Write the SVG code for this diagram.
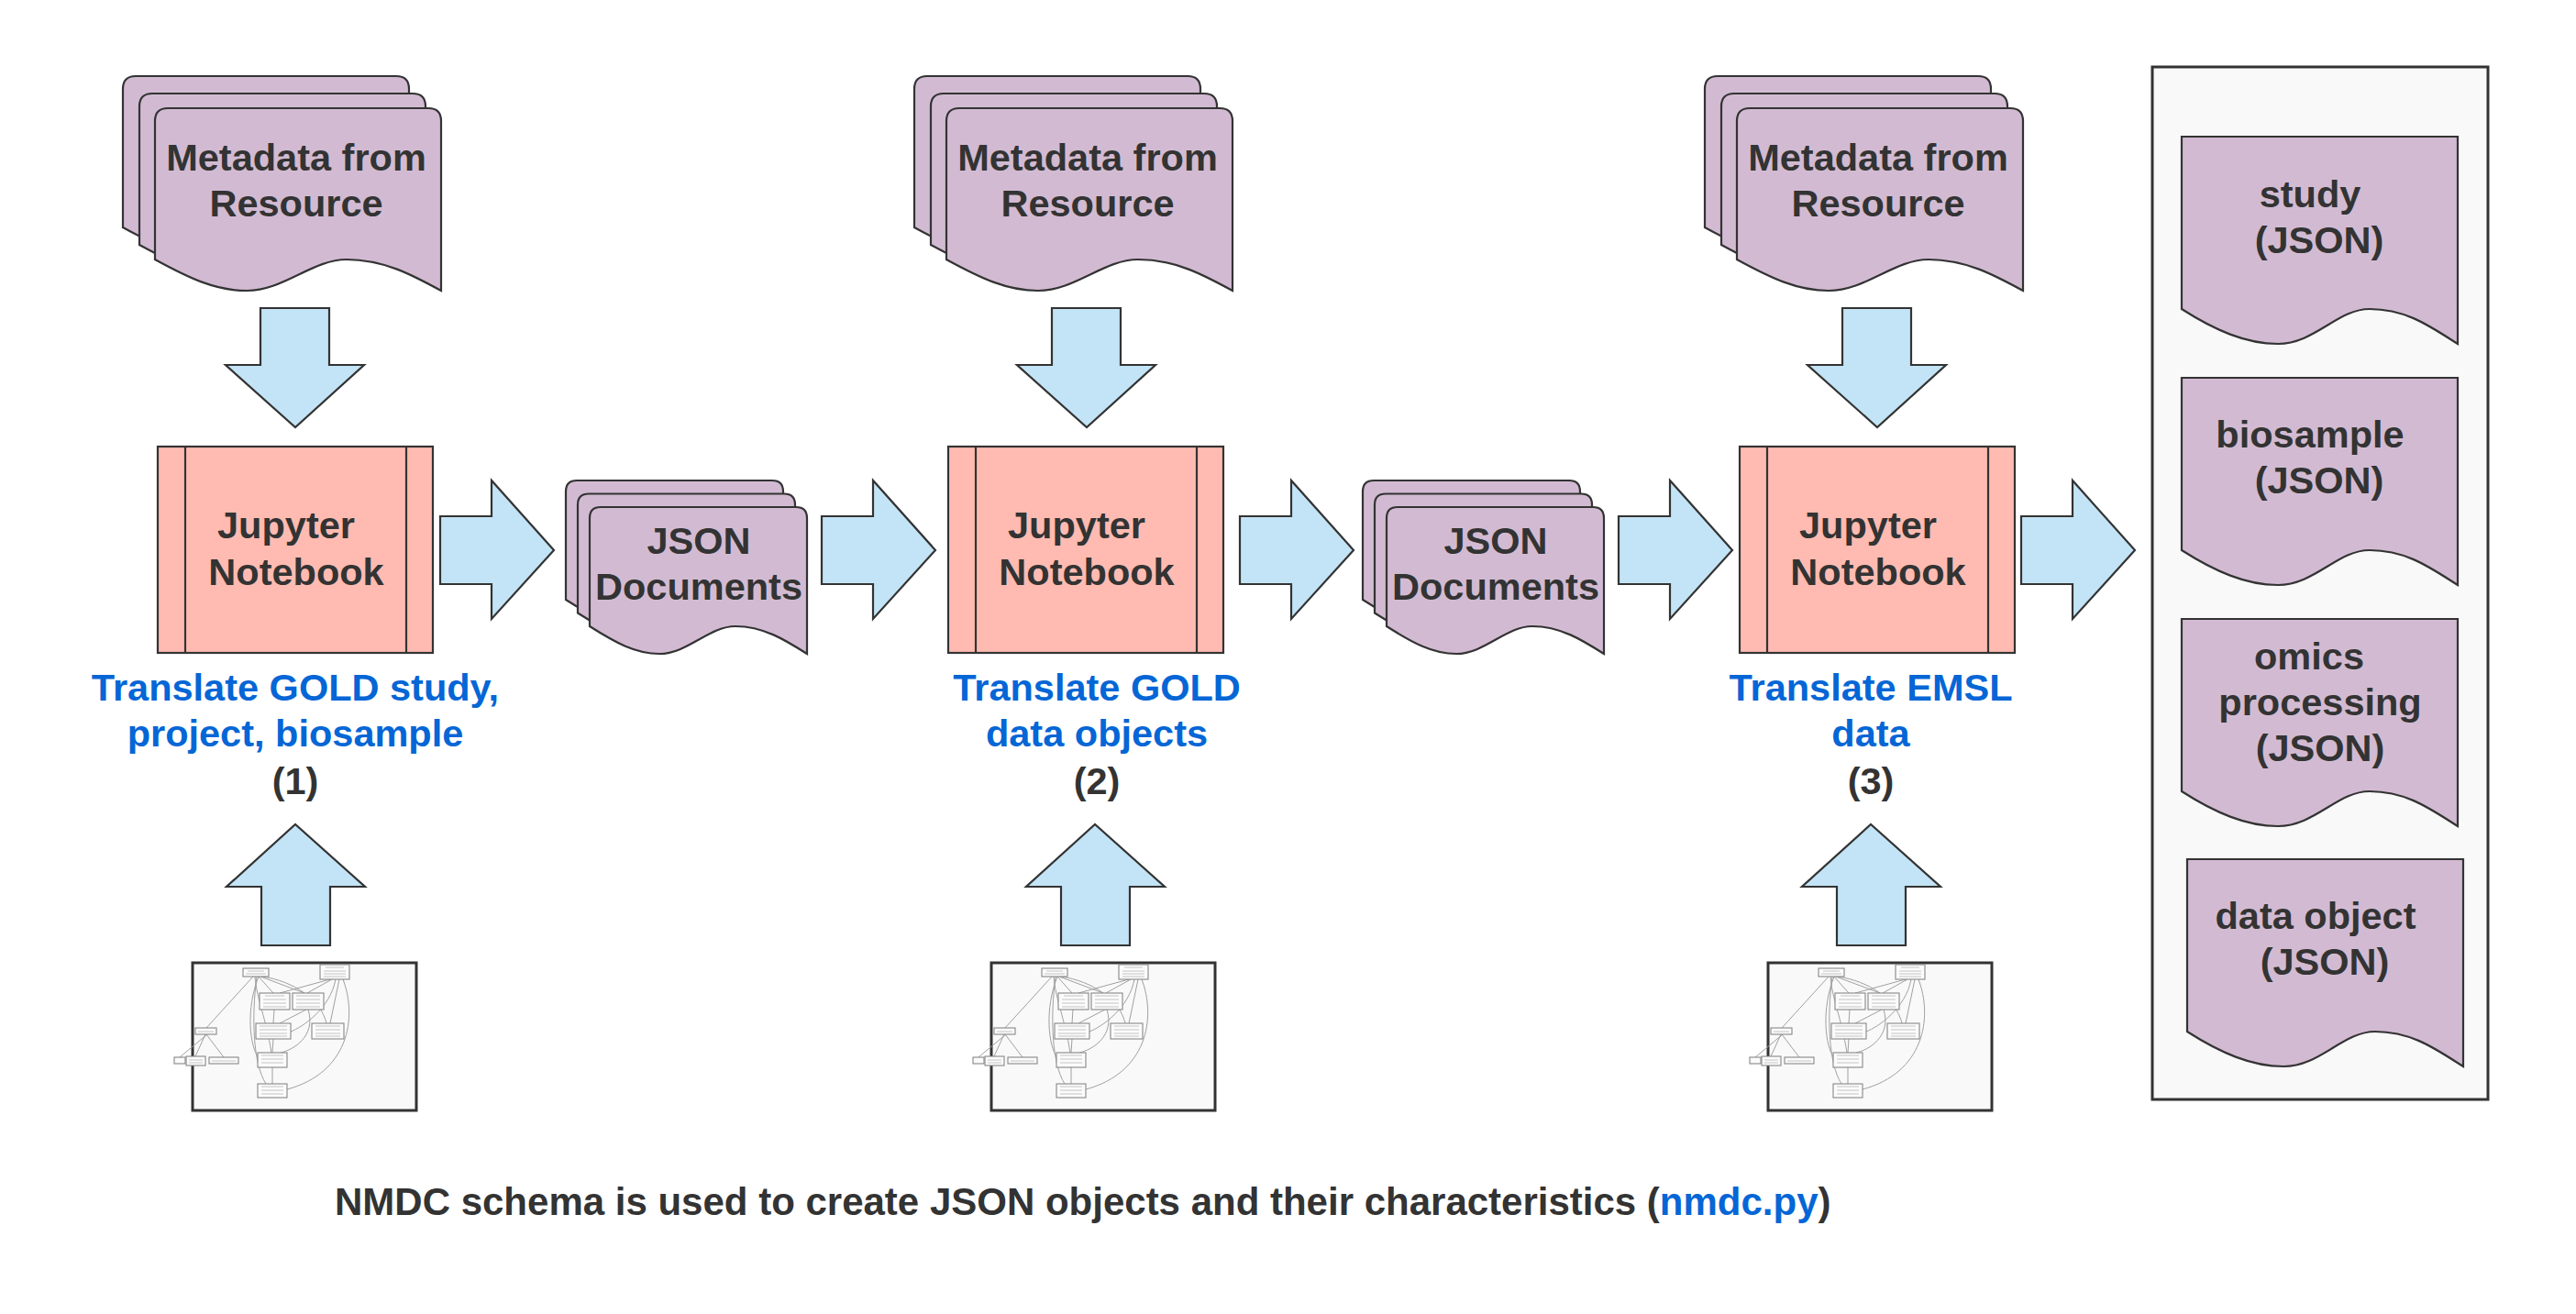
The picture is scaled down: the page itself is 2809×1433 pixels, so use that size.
<svg xmlns="http://www.w3.org/2000/svg" xmlns:xlink="http://www.w3.org/1999/xlink" width="2809" height="1433" viewBox="0 0 2809 1433">
<style>
.doc{fill:#d2bbd2;stroke:#333;stroke-width:2.2}
.nb{fill:#ffbbb1;stroke:#333;stroke-width:2.2}
.arr{fill:#c3e4f6;stroke:#333;stroke-width:2.2}
.frame{fill:#f9f9f9;stroke:#333;stroke-width:3}
.t{font-family:"Liberation Sans",Arial,sans-serif;font-weight:bold;font-size:41.5px;fill:#333;text-anchor:middle}
.b{fill:#0566d6}
.mb{fill:#fbfbfb;stroke:#888;stroke-width:1.1}
.ml{fill:none;stroke:#a0a0a0;stroke-width:1}
.mt{fill:none;stroke:#b8b8b8;stroke-width:0.8}
</style>
<defs>
<path id="mdoc" d="M0,165 L0,14 Q0,0 14,0 L298,0 Q312,0 312,14 L312,199 C280.8,182 249.6,165 209,165 C171.6,165 140.4,199 100,199 C66,199 37.4,185.4 0,165 Z"/>
<path id="jdoc" d="M0,130 L0,12 Q0,0 12,0 L225,0 Q237,0 237,12 L237,160 C213.3,145 189.6,130 158.8,130 C130.4,130 106.7,160 76,160 C50,160 28.4,148 0,130 Z"/>
<path id="rdoc" d="M0,188 L0,0 L301,0 L301,226 C271,207 245,188 205,188 C170,188 145,226 105,226 C70,226 36,211 0,188 Z"/>
<path id="rarr" d="M0,-37 L56,-37 L56,-76 L124,0 L56,75 L56,37 L0,37 Z"/>
<path id="darr" d="M-38,0 L37,0 L37,62 L75,62 L0,130 L-76,62 L-38,62 Z"/>
<path id="uarr" d="M-37,0 L38,0 L38,-64 L76,-64 L0,-132 L-75,-64 L-37,-64 Z"/>
<g id="mini">
<rect class="frame" x="0" y="0" width="244" height="161"/>
<path class="ml" d="M66,15 L15,71 M68,15 C70,40 80,60 86,98 M70,15 C64,60 66,110 80,132 M72,15 L88,33 M74,15 L122,33 M76,15 C110,20 140,40 146,66 M150,18 L95,33 M152,18 L125,33 M156,18 C150,50 120,70 107,75 M160,18 L150,66 M164,18 C180,60 170,120 103,138 M89,51 L88,66 M124,51 L95,66 M126,51 C135,80 110,95 96,98 M88,83 L87,98 M87,114 L87,132 M14,78 L3,102 M15,78 L34,103 M16,78 L-14,103 M72,15 C58,50 62,90 72,104"/>
<rect class="mb" x="55" y="6" width="28" height="9"/>
<rect class="mb" x="139" y="2" width="32" height="16"/>
<rect class="mb" x="73" y="33" width="33" height="18"/>
<rect class="mb" x="109" y="33" width="34" height="18"/>
<rect class="mb" x="69" y="66" width="38" height="17"/>
<rect class="mb" x="130" y="66" width="35" height="17"/>
<rect class="mb" x="3" y="71" width="23" height="7"/>
<rect class="mb" x="71" y="98" width="32" height="16"/>
<rect class="mb" x="-7" y="102" width="21" height="10"/>
<rect class="mb" x="18" y="103" width="32" height="7"/>
<rect class="mb" x="-20" y="103" width="12" height="7"/>
<rect class="mb" x="71" y="132" width="32" height="15"/>
<path class="mt" d="M60,9 H78 M58,12 H80 M145,5 H165 M143,9 H167 M143,12 H167 M143,15 H167 M79,36 H100 M77,40 H102 M77,44 H102 M77,48 H102 M113,36 H139 M113,40 H139 M113,44 H139 M113,48 H139 M73,69 H103 M73,73 H103 M73,77 H103 M73,80 H103 M134,69 H161 M134,73 H161 M134,77 H161 M134,80 H161 M6,75 H23 M75,101 H99 M75,105 H99 M75,109 H99 M-4,106 H11 M-4,109 H11 M21,107 H47 M75,135 H99 M75,139 H99 M75,143 H99"/>
</g>
</defs>

<g id="connectors">
<use href="#darr" class="arr" x="322" y="336"/>
<use href="#darr" class="arr" x="1185" y="336"/>
<use href="#darr" class="arr" x="2047" y="336"/>
<use href="#uarr" class="arr" x="322" y="1031"/>
<use href="#uarr" class="arr" x="1194" y="1031"/>
<use href="#uarr" class="arr" x="2040" y="1031"/>
<use href="#rarr" class="arr" x="480" y="600"/>
<use href="#rarr" class="arr" x="896" y="600"/>
<use href="#rarr" class="arr" x="1352" y="600"/>
<use href="#rarr" class="arr" x="1765" y="600"/>
<use href="#rarr" class="arr" x="2204" y="600"/>
</g>

<g id="meta1">
<use href="#mdoc" class="doc" x="134" y="83"/>
<use href="#mdoc" class="doc" x="152" y="102"/>
<use href="#mdoc" class="doc" x="169" y="118"/>
<text class="t" x="323" y="186">Metadata from</text>
<text class="t" x="323" y="236">Resource</text>
</g>
<g id="meta2">
<use href="#mdoc" class="doc" x="997" y="83"/>
<use href="#mdoc" class="doc" x="1015" y="102"/>
<use href="#mdoc" class="doc" x="1032" y="118"/>
<text class="t" x="1186" y="186">Metadata from</text>
<text class="t" x="1186" y="236">Resource</text>
</g>
<g id="meta3">
<use href="#mdoc" class="doc" x="1859" y="83"/>
<use href="#mdoc" class="doc" x="1877" y="102"/>
<use href="#mdoc" class="doc" x="1894" y="118"/>
<text class="t" x="2048" y="186">Metadata from</text>
<text class="t" x="2048" y="236">Resource</text>
</g>

<g id="notebook1">
<rect class="nb" x="172" y="487" width="300" height="225"/>
<path class="nb" d="M202,487 V712 M443,487 V712"/>
<text class="t" x="312" y="587">Jupyter</text>
<text class="t" x="323" y="638">Notebook</text>
</g>
<g id="notebook2">
<rect class="nb" x="1034" y="487" width="300" height="225"/>
<path class="nb" d="M1064,487 V712 M1305,487 V712"/>
<text class="t" x="1174" y="587">Jupyter</text>
<text class="t" x="1185" y="638">Notebook</text>
</g>
<g id="notebook3">
<rect class="nb" x="1897" y="487" width="300" height="225"/>
<path class="nb" d="M1927,487 V712 M2168,487 V712"/>
<text class="t" x="2037" y="587">Jupyter</text>
<text class="t" x="2048" y="638">Notebook</text>
</g>

<g id="json1">
<use href="#jdoc" class="doc" x="617" y="524"/>
<use href="#jdoc" class="doc" x="630" y="538.5"/>
<use href="#jdoc" class="doc" x="643" y="553"/>
<text class="t" x="762" y="604">JSON</text>
<text class="t" x="762" y="654">Documents</text>
</g>
<g id="json2">
<use href="#jdoc" class="doc" x="1486" y="524"/>
<use href="#jdoc" class="doc" x="1499" y="538.5"/>
<use href="#jdoc" class="doc" x="1512" y="553"/>
<text class="t" x="1631" y="604">JSON</text>
<text class="t" x="1631" y="654">Documents</text>
</g>

<g id="label1">
<text class="t b" x="322" y="764">Translate GOLD study,</text>
<text class="t b" x="322" y="814">project, biosample</text>
<text class="t" x="322" y="866">(1)</text>
</g>
<g id="label2">
<text class="t b" x="1196" y="764">Translate GOLD</text>
<text class="t b" x="1196" y="814">data objects</text>
<text class="t" x="1196" y="866">(2)</text>
</g>
<g id="label3">
<text class="t b" x="2040" y="764">Translate EMSL</text>
<text class="t b" x="2040" y="814">data</text>
<text class="t" x="2040" y="866">(3)</text>
</g>

<g id="schema1"><use href="#mini" x="210" y="1050"/></g>
<g id="schema2"><use href="#mini" x="1081" y="1050"/></g>
<g id="schema3"><use href="#mini" x="1928" y="1050"/></g>

<g id="output-panel">
<rect class="frame" x="2347" y="73" width="366" height="1126"/>
</g>
<g id="study">
<use href="#rdoc" class="doc" x="2379" y="149"/>
<text class="t" x="2519" y="226">study</text>
<text class="t" x="2529" y="276">(JSON)</text>
</g>
<g id="biosample">
<use href="#rdoc" class="doc" x="2379" y="412"/>
<text class="t" x="2519" y="488">biosample</text>
<text class="t" x="2529" y="538">(JSON)</text>
</g>
<g id="omics">
<use href="#rdoc" class="doc" x="2379" y="675"/>
<text class="t" x="2518" y="730">omics</text>
<text class="t" x="2530" y="780">processing</text>
<text class="t" x="2530" y="830">(JSON)</text>
</g>
<g id="dataobject">
<use href="#rdoc" class="doc" x="2385" y="937"/>
<text class="t" x="2525" y="1013">data object</text>
<text class="t" x="2535" y="1063">(JSON)</text>
</g>

<g id="caption">
<text class="t" x="365" y="1325" style="text-anchor:start;font-size:42px">NMDC schema is used to create JSON objects and their characteristics (<tspan class="b">nmdc.py</tspan>)</text>
</g>
</svg>
